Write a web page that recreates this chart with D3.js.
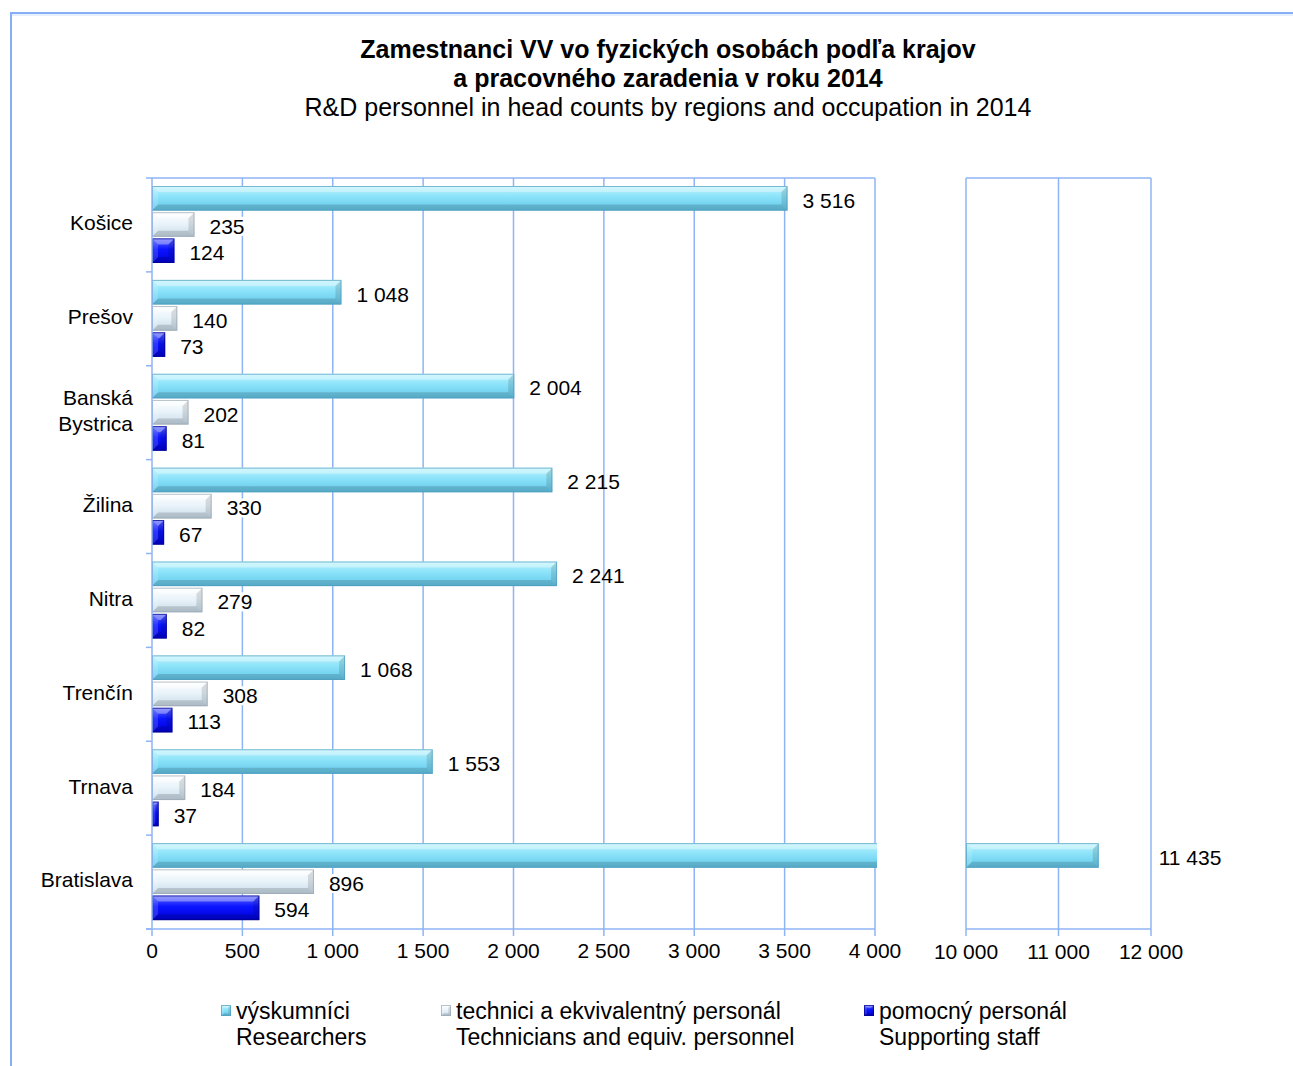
<!DOCTYPE html>
<html>
<head>
<meta charset="utf-8">
<script src="https://cdn.jsdelivr.net/npm/d3@7"></script>
<style>
  body { margin: 0; background: #fff; }
  svg text { font-family: "Liberation Sans", Arial, sans-serif; fill: #000; }
</style>
</head>
<body>
<div id="chart"></div>
<script>
// regions, top to bottom
var regions = ["Košice", "Prešov", "Banská Bystrica", "Žilina", "Nitra", "Trenčín", "Trnava", "Bratislava"];
var researchers = [3516, 1048, 2004, 2215, 2241, 1068, 1553, 11435];
var technicians = [235, 140, 202, 330, 279, 308, 184, 896];
var support = [124, 73, 81, 67, 82, 113, 37, 594];

var seriesNames = [
  ["výskumníci", "Researchers"],
  ["technici a ekvivalentný personál", "Technicians and equiv. personnel"],
  ["pomocný personál", "Supporting staff"]
];
var leftTicks = [0, 500, 1000, 1500, 2000, 2500, 3000, 3500, 4000];
var rightTicks = [10000, 11000, 12000];

var W = 1293, H = 1066;
var gridColor = "#8fb4f6";

var svg = d3.select("#chart").append("svg")
  .attr("width", W).attr("height", H);

// outer frame
svg.append("rect")
  .attr("x", 11).attr("y", 13).attr("width", W).attr("height", H)
  .attr("fill", "none").attr("stroke", "#86aef3").attr("stroke-width", 2);
svg.append("line").attr("x1", 12).attr("x2", W).attr("y1", 15).attr("y2", 15)
  .attr("stroke", "#cfe0fb").attr("stroke-width", 1);

// titles
svg.append("text").attr("x", 668).attr("y", 58).attr("text-anchor", "middle")
  .style("font-size", "25px").style("font-weight", "bold")
  .text("Zamestnanci VV vo fyzických osobách podľa krajov");
svg.append("text").attr("x", 668).attr("y", 87).attr("text-anchor", "middle")
  .style("font-size", "25px").style("font-weight", "bold")
  .text("a pracovného zaradenia v roku 2014");
svg.append("text").attr("x", 668).attr("y", 116).attr("text-anchor", "middle")
  .style("font-size", "25px")
  .text("R&D personnel in head counts by regions and occupation in 2014");

var plotTop = 178, plotBottom = 929;
var x = d3.scaleLinear().domain([0, 4000]).range([152, 875]);
var xr = d3.scaleLinear().domain([10000, 12000]).range([966, 1151]);
var y = d3.scaleBand().domain(regions).range([plotTop, plotBottom]);
var inner = d3.scaleBand().domain([0, 1, 2]).range([8, 85]).paddingInner(0.06);

// gradients
var defs = svg.append("defs");
var styles = [
  { id: "gRes", stops: ["#bdf4fe", "#8ae2f9", "#64c8ea"], stroke: "#4f9dbd" },
  { id: "gTech", stops: ["#ffffff", "#eaf4fa", "#cadcea"], stroke: "#98a6b2" },
  { id: "gSup", stops: ["#5a66ff", "#0a14ff", "#0000d8"], stroke: "#00008a" }
];
styles.forEach(function(s) {
  var g = defs.append("linearGradient").attr("id", s.id)
    .attr("x1", 0).attr("x2", 0).attr("y1", 0).attr("y2", 1);
  g.append("stop").attr("offset", "0%").attr("stop-color", s.stops[0]);
  g.append("stop").attr("offset", "45%").attr("stop-color", s.stops[1]);
  g.append("stop").attr("offset", "100%").attr("stop-color", s.stops[2]);
});
defs.append("clipPath").attr("id", "clipL").append("rect")
  .attr("x", 150).attr("y", plotTop - 2).attr("width", 877 - 150).attr("height", plotBottom - plotTop + 4);

// grid left
var gridL = svg.append("g");
gridL.selectAll("line.v").data(leftTicks.slice(1)).enter().append("line")
  .attr("x1", function(d) { return x(d); }).attr("x2", function(d) { return x(d); })
  .attr("y1", plotTop).attr("y2", plotBottom + 7)
  .attr("stroke", gridColor).attr("stroke-width", 1.5);
gridL.append("line").attr("x1", 152).attr("x2", 875).attr("y1", plotTop).attr("y2", plotTop)
  .attr("stroke", gridColor).attr("stroke-width", 1.5);

// grid right
var gridR = svg.append("g");
gridR.selectAll("line").data(rightTicks).enter().append("line")
  .attr("x1", function(d) { return xr(d); }).attr("x2", function(d) { return xr(d); })
  .attr("y1", plotTop).attr("y2", plotBottom + 7)
  .attr("stroke", gridColor).attr("stroke-width", 1.5);
gridR.append("line").attr("x1", 966).attr("x2", 1151).attr("y1", plotTop).attr("y2", plotTop)
  .attr("stroke", gridColor).attr("stroke-width", 1.5);

// bar drawing with bevel
function bevelBar(g, x0, x1, yy, h, st) {
  var w = x1 - x0;
  if (w <= 0) return;
  var b = Math.min(6, h / 4, w / 2);
  g.append("rect").attr("x", x0).attr("y", yy).attr("width", w).attr("height", h)
    .attr("fill", "url(#" + st.id + ")");
  var pts = function(a) { return a.map(function(p) { return p.join(","); }).join(" "); };
  g.append("polygon").attr("points", pts([[x0, yy], [x1, yy], [x1 - b, yy + b], [x0 + b, yy + b]]))
    .attr("fill", "#fff").attr("opacity", 0.35);
  g.append("polygon").attr("points", pts([[x0, yy + h], [x1, yy + h], [x1 - b, yy + h - b], [x0 + b, yy + h - b]]))
    .attr("fill", "#000").attr("opacity", 0.15);
  g.append("polygon").attr("points", pts([[x0, yy], [x0 + b, yy + b], [x0 + b, yy + h - b], [x0, yy + h]]))
    .attr("fill", "#fff").attr("opacity", 0.15);
  g.append("polygon").attr("points", pts([[x1, yy], [x1 - b, yy + b], [x1 - b, yy + h - b], [x1, yy + h]]))
    .attr("fill", "#000").attr("opacity", 0.12);
  g.append("rect").attr("x", x0 + 0.5).attr("y", yy + 0.5).attr("width", w - 1).attr("height", h - 1)
    .attr("fill", "none").attr("stroke", st.stroke).attr("stroke-width", 1).attr("opacity", 0.7);
}

var allSeries = [researchers, technicians, support];
var barsL = svg.append("g").attr("clip-path", "url(#clipL)");
var barsR = svg.append("g");
var labels = svg.append("g");
var fmt = function(d) { return d3.format(",")(d).replace(/,/g, " "); };

regions.forEach(function(r, i) {
  allSeries.forEach(function(vals, s) {
    var v = vals[i];
    var yy = y(r) + inner(s);
    var h = inner.bandwidth();
    var labelX;
    if (v > 4000) {
      bevelBar(barsL, x(0), x(4000) + 10, yy, h, styles[s]);
      bevelBar(barsR, xr(10000), xr(v), yy, h, styles[s]);
      labelX = xr(v) + 60;
    } else {
      bevelBar(barsL, x(0), x(v), yy, h, styles[s]);
      labelX = x(v) + 15;
    }
    var t = labels.append("text").attr("x", labelX).attr("y", yy + h / 2 + 2)
      .attr("dy", "0.35em").style("font-size", "21px")
      .text(fmt(v));
    if (s > 0) {
      var bb = t.node().getBBox();
      labels.insert("rect", "text").attr("x", bb.x - 2).attr("y", bb.y + 2)
        .attr("width", bb.width + 4).attr("height", bb.height - 4).attr("fill", "#fff");
    }
  });
});

// left axis
var axisG = svg.append("g");
axisG.append("line").attr("x1", 152).attr("x2", 152).attr("y1", plotTop).attr("y2", plotBottom + 7)
  .attr("stroke", gridColor).attr("stroke-width", 1.5);
axisG.selectAll("line.tk").data(regions.concat(["end"])).enter().append("line")
  .attr("x1", 146).attr("x2", 152)
  .attr("y1", function(d, i) { return plotTop + i * y.step(); })
  .attr("y2", function(d, i) { return plotTop + i * y.step(); })
  .attr("stroke", gridColor).attr("stroke-width", 1.5);

regions.forEach(function(r) {
  var parts = r === "Banská Bystrica" ? ["Banská", "Bystrica"] : [r];
  var cy = y(r) + y.bandwidth() / 2 - 2;
  parts.forEach(function(p, k) {
    svg.append("text").attr("x", 133).attr("text-anchor", "end")
      .attr("y", cy + (k - (parts.length - 1) / 2) * 26).attr("dy", "0.35em")
      .style("font-size", "21px").text(p);
  });
});

// bottom axes
svg.append("line").attr("x1", 146).attr("x2", 875).attr("y1", plotBottom).attr("y2", plotBottom)
  .attr("stroke", gridColor).attr("stroke-width", 1.5);
svg.append("line").attr("x1", 966).attr("x2", 1151).attr("y1", plotBottom).attr("y2", plotBottom)
  .attr("stroke", gridColor).attr("stroke-width", 1.5);
svg.selectAll("text.tl").data(leftTicks).enter().append("text")
  .attr("x", function(d) { return x(d); }).attr("y", 951).attr("dy", "0.35em")
  .attr("text-anchor", "middle").style("font-size", "21px").text(fmt);
svg.selectAll("text.tr").data(rightTicks).enter().append("text")
  .attr("x", function(d) { return xr(d); }).attr("y", 952).attr("dy", "0.35em")
  .attr("text-anchor", "middle").style("font-size", "21px").text(fmt);

// legend
var legX = [221, 441, 864];
seriesNames.forEach(function(n, s) {
  var g = svg.append("g");
  bevelBar(g, legX[s], legX[s] + 10, 1005, 11, styles[s]);
  g.append("text").attr("x", legX[s] + 15).attr("y", 1011).attr("dy", "0.35em")
    .style("font-size", "23px").text(n[0]);
  g.append("text").attr("x", legX[s] + 15).attr("y", 1037).attr("dy", "0.35em")
    .style("font-size", "23px").text(n[1]);
});
</script>
</body>
</html>
